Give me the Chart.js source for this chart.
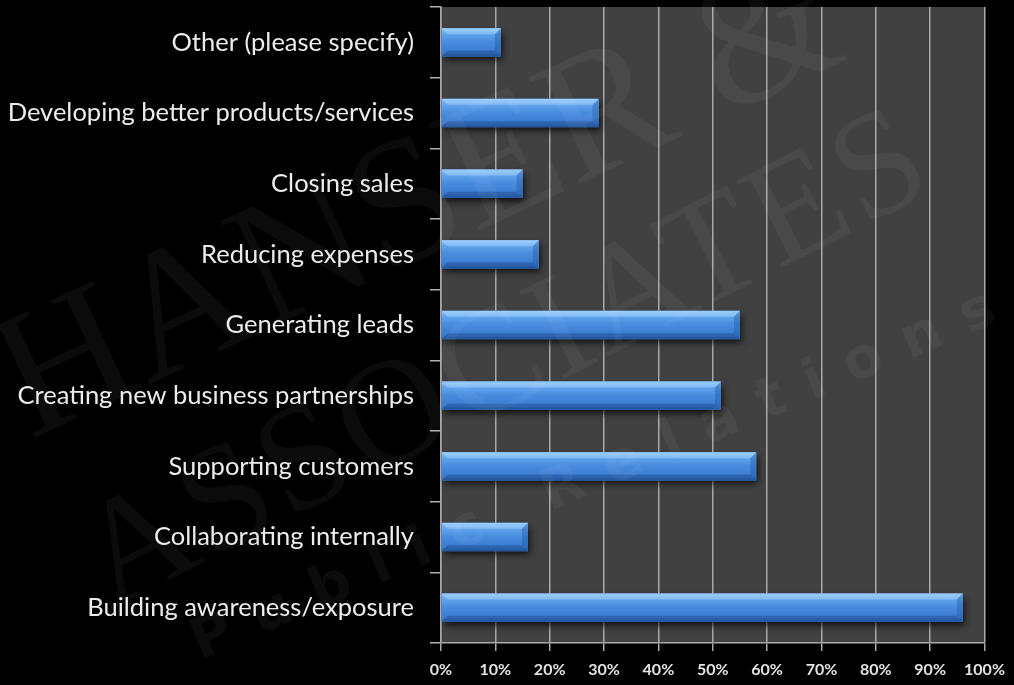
<!DOCTYPE html>
<html>
<head>
<meta charset="utf-8">
<script src="https://cdn.jsdelivr.net/npm/chart.js@4.4.1/dist/chart.umd.min.js"></script>
<style>
    html, body { margin: 0; padding: 0; background: #000; }
    #wrap { width: 1014px; height: 685px; }
</style>
</head>
<body>
<div id="wrap"><canvas id="usesChart" width="1014" height="685"></canvas></div>
<script>
// Categories, top to bottom
const categories = [
    'Other (please specify)',
    'Developing better products/services',
    'Closing sales',
    'Reducing expenses',
    'Generating leads',
    'Creating new business partnerships',
    'Supporting customers',
    'Collaborating internally',
    'Building awareness/exposure'
];

// Share of respondents (%)
const responses = [11, 29, 15, 18, 55, 51.5, 58, 16, 96];

// X axis ticks
const tickValues = [0, 10, 20, 30, 40, 50, 60, 70, 80, 90, 100];
const tickLabels = ['0%', '10%', '20%', '30%', '40%', '50%', '60%', '70%', '80%', '90%', '100%'];

const labelFont = 'Lato, "Noto Sans", sans-serif';

// Dark page + grey plot area
const backdrop = {
    id: 'backdrop',
    beforeDraw(chart) {
        const { ctx, chartArea: a } = chart;
        ctx.save();
        ctx.fillStyle = '#000';
        ctx.fillRect(0, 0, chart.width, chart.height);
        ctx.fillStyle = '#414141';
        ctx.fillRect(a.left, a.top, a.right - a.left, a.bottom - a.top);
        ctx.restore();
    }
};

// Drop shadow under the bars, then a bevelled gradient on top of each bar
const bevelBars = {
    id: 'bevelBars',
    beforeDatasetsDraw(chart) {
        const ctx = chart.ctx;
        ctx.save();
        ctx.shadowColor = 'rgba(0, 0, 0, 0.75)';
        ctx.shadowBlur = 7;
        ctx.shadowOffsetX = 2;
        ctx.shadowOffsetY = 4;
    },
    afterDatasetsDraw(chart) {
        const ctx = chart.ctx;
        ctx.restore();
        ctx.save();
        chart.getDatasetMeta(0).data.forEach(bar => {
            const { x, y, base, height } = bar.getProps(['x', 'y', 'base', 'height'], true);
            const top = y - height / 2;
            const bottom = y + height / 2;
            const left = base;
            const b = Math.min(6, (x - left) / 2);

            const g = ctx.createLinearGradient(0, top, 0, bottom);
            g.addColorStop(0, '#8ec6f8');
            g.addColorStop(0.2, '#62a4ec');
            g.addColorStop(0.45, '#4a8ee0');
            g.addColorStop(0.85, '#3b7bd0');
            g.addColorStop(1, '#2c62ae');
            ctx.fillStyle = g;
            ctx.fillRect(left, top, x - left, height);

            // top bevel
            ctx.beginPath();
            ctx.moveTo(left, top);
            ctx.lineTo(x, top);
            ctx.lineTo(x - b, top + b);
            ctx.lineTo(left + b, top + b);
            ctx.closePath();
            ctx.fillStyle = 'rgba(170, 215, 255, 0.45)';
            ctx.fill();

            // right end bevel
            ctx.beginPath();
            ctx.moveTo(x, top);
            ctx.lineTo(x, bottom);
            ctx.lineTo(x - b, bottom - b);
            ctx.lineTo(x - b, top + b);
            ctx.closePath();
            ctx.fillStyle = 'rgba(30, 80, 150, 0.35)';
            ctx.fill();

            // bottom bevel
            ctx.beginPath();
            ctx.moveTo(left, bottom);
            ctx.lineTo(x, bottom);
            ctx.lineTo(x - b, bottom - b);
            ctx.lineTo(left + b, bottom - b);
            ctx.closePath();
            ctx.fillStyle = 'rgba(20, 60, 120, 0.35)';
            ctx.fill();
        });
        ctx.restore();
    }
};

// Faint company watermark across the whole picture
const watermark = {
    id: 'watermark',
    afterDraw(chart) {
        const ctx = chart.ctx;
        ctx.save();
        ctx.fillStyle = 'rgba(255, 255, 255, 0.045)';
        ctx.textBaseline = 'alphabetic';

        ctx.save();
        ctx.translate(30, 440);
        ctx.rotate(-25 * Math.PI / 180);
        ctx.font = '180px "Liberation Serif", "DejaVu Serif", serif';
        ctx.fillText('HANSER &', 0, 0);
        ctx.restore();

        ctx.save();
        ctx.translate(110, 610);
        ctx.rotate(-27 * Math.PI / 180);
        ctx.font = '150px "Liberation Serif", "DejaVu Serif", serif';
        ctx.letterSpacing = '4px';
        ctx.fillText('ASSOCIATES', 0, 0);
        ctx.restore();

        ctx.save();
        ctx.translate(200, 660);
        ctx.rotate(-23 * Math.PI / 180);
        ctx.font = 'bold 56px "DejaVu Sans", sans-serif';
        ctx.letterSpacing = '24px';
        ctx.fillText('Public Relations', 0, 0);
        ctx.restore();

        ctx.restore();
    }
};

document.addEventListener('DOMContentLoaded', function () {
    const ctx = document.getElementById('usesChart').getContext('2d');
    new Chart(ctx, {
        type: 'bar',
        data: {
            labels: categories,
            datasets: [{
                data: responses,
                backgroundColor: '#4a8ee0',
                borderWidth: 0,
                barPercentage: 0.4,
                categoryPercentage: 1
            }]
        },
        options: {
            indexAxis: 'y',
            responsive: false,
            maintainAspectRatio: false,
            animation: false,
            layout: {
                padding: { top: 7, right: 27, bottom: 0, left: 0 }
            },
            scales: {
                x: {
                    min: 0,
                    max: 100,
                    afterBuildTicks(scale) {
                        scale.ticks = tickValues.map(v => ({ value: v }));
                    },
                    afterFit(scale) {
                        scale.height = 42;
                    },
                    ticks: {
                        color: '#e2e2e2',
                        font: { family: labelFont, size: 16, weight: 'bold' },
                        padding: 9,
                        maxRotation: 0,
                        callback: (v, i) => tickLabels[i]
                    },
                    grid: {
                        color: '#a9a9a9',
                        lineWidth: 1.5,
                        tickLength: 8
                    },
                    border: { color: '#a9a9a9', width: 1.5 }
                },
                y: {
                    afterFit(scale) {
                        scale.width = 441;
                        scale.paddingTop = 0;
                        scale.paddingBottom = 0;
                    },
                    ticks: {
                        color: '#ececec',
                        font: { family: labelFont, size: 25.5 },
                        padding: 16
                    },
                    grid: {
                        drawOnChartArea: false,
                        offset: true,
                        color: '#b0b0b0',
                        lineWidth: 1.5,
                        tickLength: 11
                    },
                    border: { color: '#a9a9a9', width: 1.5 }
                }
            },
            plugins: {
                legend: { display: false },
                tooltip: { enabled: false },
                title: { display: false }
            }
        },
        plugins: [backdrop, bevelBars, watermark]
    });
});
</script>
</body>
</html>
